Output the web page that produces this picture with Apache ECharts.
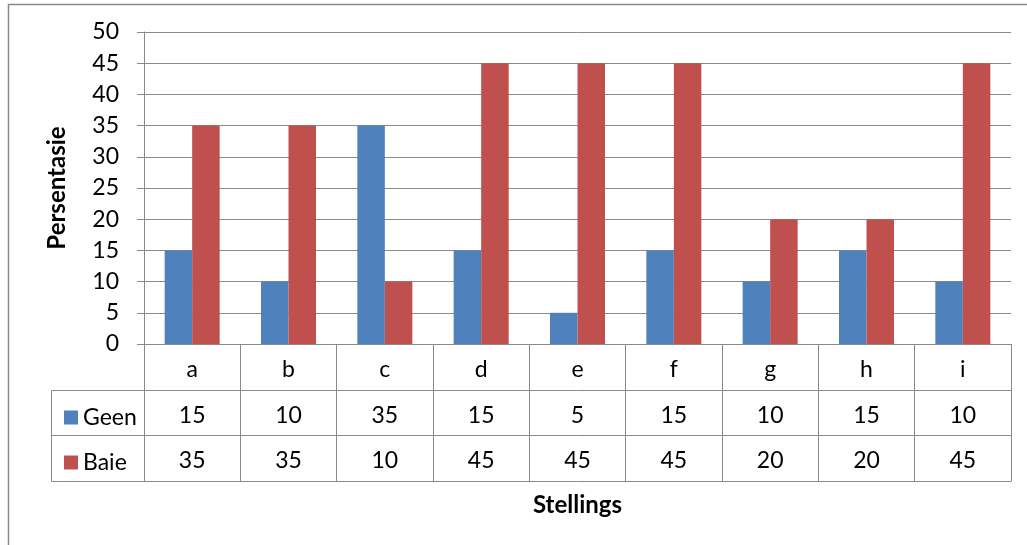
<!DOCTYPE html>
<html>
<head>
<meta charset="utf-8">
<script src="https://cdn.jsdelivr.net/npm/echarts@6/dist/echarts.min.js"></script>
<style>
  html, body { margin: 0; padding: 0; background: #fff; }
  #chart { width: 1027px; height: 545px; }
</style>
</head>
<body>
<div id="chart"></div>
<script>
// Statements and the share of respondents per answer
const categories = ['a', 'b', 'c', 'd', 'e', 'f', 'g', 'h', 'i'];
const seriesNames = ['Geen', 'Baie'];
const geen = [15, 10, 35, 15, 5, 15, 10, 15, 10];
const baie = [35, 35, 10, 45, 45, 45, 20, 20, 45];
const yMin = 0, yMax = 50, yStep = 5;

const FONT = 'Lato, "Open Sans", sans-serif';
const LINE = '#8a8a8a';
const BLUE = '#4f81bd';
const RED = '#c0504d';
const TEXT_SIZE = 23;
const TITLE_SIZE = 24;

const chart = echarts.init(document.getElementById('chart'), null, { renderer: 'canvas' });

// One category axis per data-table row; its line and boundary ticks form the table grid
function tableAxis(offset, tickLen, values, extra) {
  return Object.assign({
    type: 'category',
    data: categories,
    position: 'bottom',
    offset: offset,
    boundaryGap: true,
    axisLine: { show: true, lineStyle: { color: LINE, width: 1 } },
    axisTick: { show: tickLen > 0, length: tickLen, interval: 0, lineStyle: { color: LINE, width: 1 } },
    axisLabel: {
      show: !!values,
      interval: 0,
      margin: 14,
      color: '#000',
      fontFamily: FONT,
      fontSize: TEXT_SIZE,
      formatter: values ? (v, i) => String(values[i]) : undefined
    },
    splitLine: { show: false }
  }, extra || {});
}

const option = {
  animation: false,
  backgroundColor: '#fff',
  grid: { left: 144, right: 16, top: 32, bottom: 201, containLabel: false },
  legend: {
    data: seriesNames,
    orient: 'vertical',
    left: 59,
    top: 401,
    itemWidth: 14,
    itemHeight: 14,
    itemGap: 22,
    itemTextGap: 7,
    icon: 'rect',
    selectedMode: false,
    textStyle: { color: '#000', fontFamily: FONT, fontSize: TEXT_SIZE, lineHeight: TEXT_SIZE }
  },
  xAxis: [
    tableAxis(0, 46, categories),
    tableAxis(46, 45, geen),
    tableAxis(91, 46, baie),
    tableAxis(137, 0, null, {
      name: 'Stellings',
      nameLocation: 'middle',
      nameGap: 12,
      nameTextStyle: { color: '#000', fontFamily: FONT, fontSize: TITLE_SIZE, fontWeight: 'bold' }
    })
  ],
  yAxis: {
    type: 'value',
    min: yMin,
    max: yMax,
    interval: yStep,
    name: 'Persentasie',
    nameLocation: 'middle',
    nameGap: 75,
    nameTextStyle: { color: '#000', fontFamily: FONT, fontSize: TITLE_SIZE, fontWeight: 'bold' },
    axisLine: { show: true, lineStyle: { color: LINE, width: 1 } },
    axisTick: { show: true, length: 7, lineStyle: { color: LINE, width: 1 } },
    axisLabel: { color: '#000', fontFamily: FONT, fontSize: TEXT_SIZE, margin: 25 },
    splitLine: { show: true, lineStyle: { color: LINE, width: 1 } }
  },
  series: [
    {
      name: seriesNames[0], type: 'bar', data: geen, xAxisIndex: 0,
      barWidth: 27.5, barGap: '0%', itemStyle: { color: BLUE }
    },
    {
      name: seriesNames[1], type: 'bar', data: baie, xAxisIndex: 0,
      barWidth: 27.5, barGap: '0%', itemStyle: { color: RED }
    }
  ],
  graphic: [
    // outer chart frame
    { type: 'rect', silent: true, shape: { x: 8.5, y: 4.5, width: 1100, height: 600 },
      style: { fill: null, stroke: LINE, lineWidth: 1.5 } },
    // legend column of the data table
    { type: 'polyline', silent: true, shape: { points: [[144, 390.5], [51.5, 390.5], [51.5, 481.5], [144, 481.5]] },
      style: { fill: null, stroke: LINE, lineWidth: 1 } },
    { type: 'line', silent: true, shape: { x1: 51.5, y1: 435.5, x2: 144, y2: 435.5 },
      style: { stroke: LINE, lineWidth: 1 } }
  ]
};

chart.setOption(option);
</script>
</body>
</html>
